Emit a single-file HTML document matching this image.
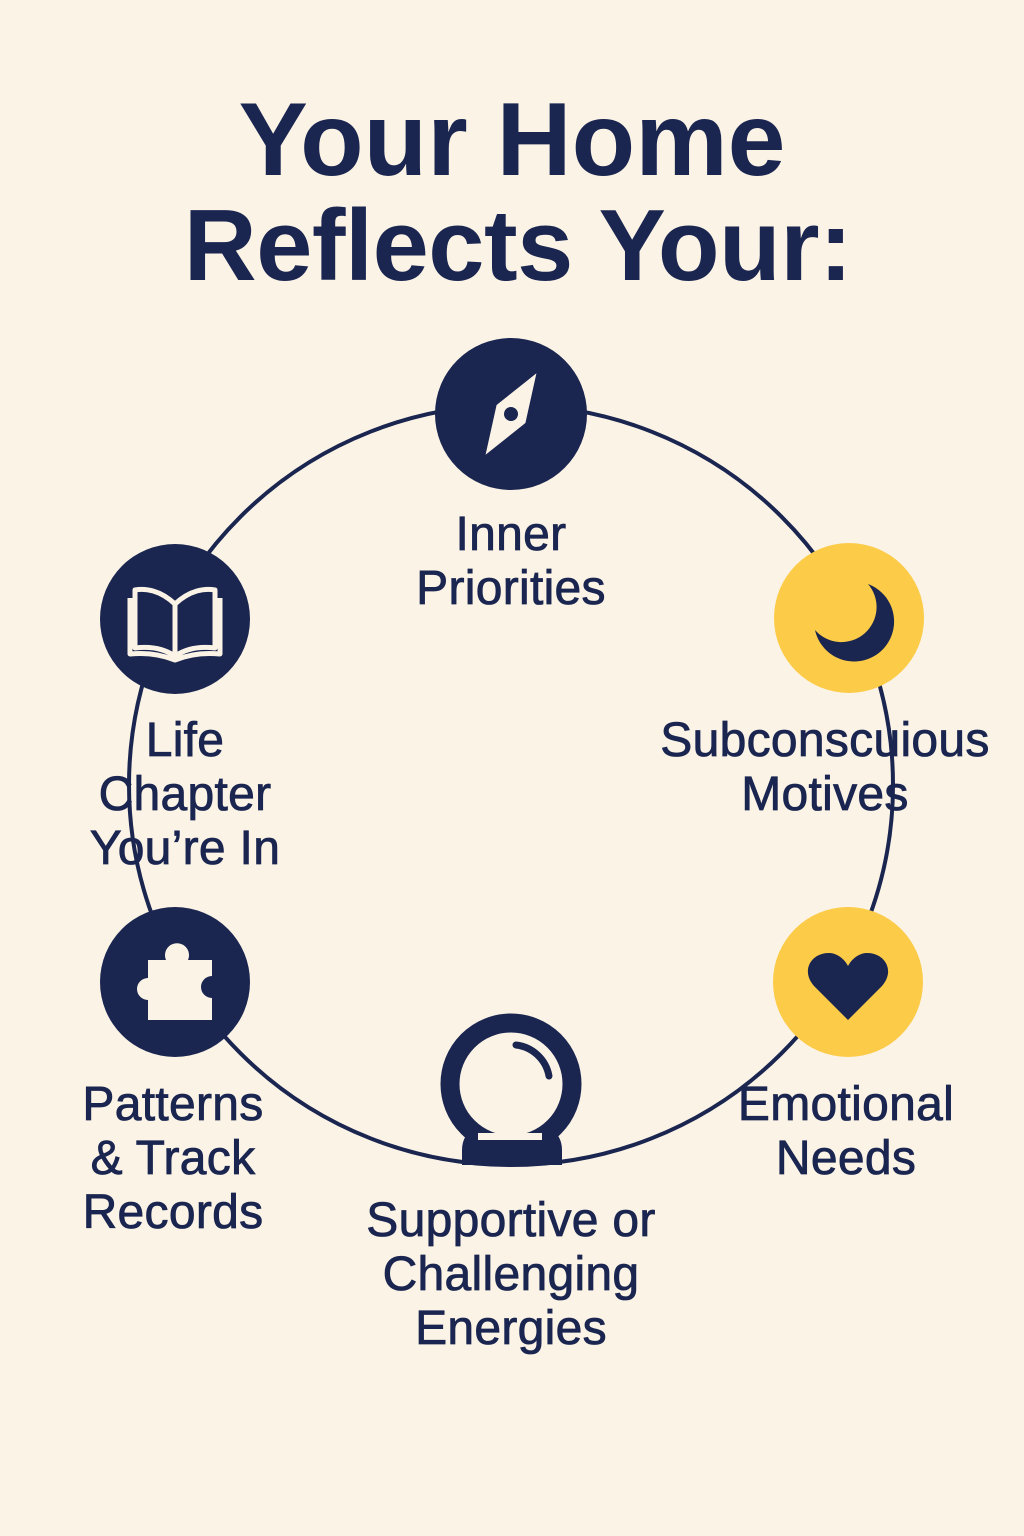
<!DOCTYPE html>
<html><head><meta charset="utf-8"><style>
body{margin:0;background:#faf3e6;}
.w{position:relative;width:1024px;height:1536px;background:#faf3e6;font-family:"Liberation Sans",sans-serif;color:#1a2550;overflow:hidden}
.t{position:absolute;left:0;width:1024px;text-align:center;font-weight:bold;font-size:104px;letter-spacing:0px;line-height:108px}
.l{position:absolute;text-align:center;font-size:48px;line-height:54px;width:400px;-webkit-text-stroke:0.8px #1a2550;letter-spacing:0.3px}
svg{position:absolute;left:0;top:0}
</style></head><body><div class="w">
<div class="t" style="top:86px">Your Home</div>
<div class="t" style="top:192px;left:6px;font-size:101px;letter-spacing:-0.5px">Reflects Your:</div>
<svg width="1024" height="1536">
<ellipse cx="511" cy="785" rx="382" ry="380" fill="none" stroke="#1a2550" stroke-width="4"/>
<circle cx="511" cy="414" r="76" fill="#1a2550"/>
<g transform="translate(511,414) rotate(32)">
<polygon points="0,-48 17,0 0,48 -17,0" fill="#faf3e6"/>
<circle cx="0" cy="0" r="7" fill="#1a2550"/>
</g>
<circle cx="849" cy="618" r="75" fill="#fccb47"/>
<path d="M868,584 A40,40 0 1 1 815,630 A32,32 0 0 0 868,584 Z" fill="#1a2550"/>
<circle cx="848" cy="982" r="75" fill="#fccb47"/>
<path d="M848,1020 L814,986 C800,970 812,952 830,953 C840,954 846,962 848,966 C850,962 856,954 866,953 C884,952 896,970 882,986 Z" fill="#1a2550"/>
<circle cx="175" cy="619" r="75" fill="#1a2550"/>
<g fill="none" stroke="#faf3e6" stroke-width="5" stroke-linejoin="round">
<path d="M175,604 C160,590 145,588 135,590 L135,648 C150,646 163,648 175,656 Z"/>
<path d="M175,604 C190,590 205,588 215,590 L215,648 C200,646 187,648 175,656 Z"/>
<path d="M130,598 L130,654 C150,652 165,656 175,660 C185,656 200,652 220,654 L220,598"/>
</g>
<circle cx="175" cy="982" r="75" fill="#1a2550"/>
<path d="M148,960 L166,960 A12,12 0 1 1 188,960 L212,960 L212,976 A11,11 0 1 0 212,998 L212,1020 L148,1020 L148,1000 A11,11 0 1 1 148,978 Z" fill="#faf3e6"/>
<circle cx="511" cy="1084" r="61" fill="none" stroke="#1a2550" stroke-width="19"/>
<path d="M516,1045 A38,38 0 0 1 549,1076" fill="none" stroke="#1a2550" stroke-width="7" stroke-linecap="round"/>
<path d="M468,1133 L556,1133 Q562,1140 562,1150 L562,1165 L462,1165 L462,1150 Q462,1140 468,1133 Z" fill="#1a2550"/>
<rect x="478" y="1133" width="64" height="7" fill="#faf3e6"/>
</svg>
<div class="l" style="left:311px;top:508px">Inner<br>Priorities</div>
<div class="l" style="left:625px;top:714px">Subconscuious<br>Motives</div>
<div class="l" style="left:-15px;top:714px">Life<br>Chapter<br>You’re In</div>
<div class="l" style="left:646px;top:1078px">Emotional<br>Needs</div>
<div class="l" style="left:-27px;top:1078px">Patterns<br>&amp; Track<br>Records</div>
<div class="l" style="left:311px;top:1194px">Supportive or<br>Challenging<br>Energies</div>
</div></body></html>
